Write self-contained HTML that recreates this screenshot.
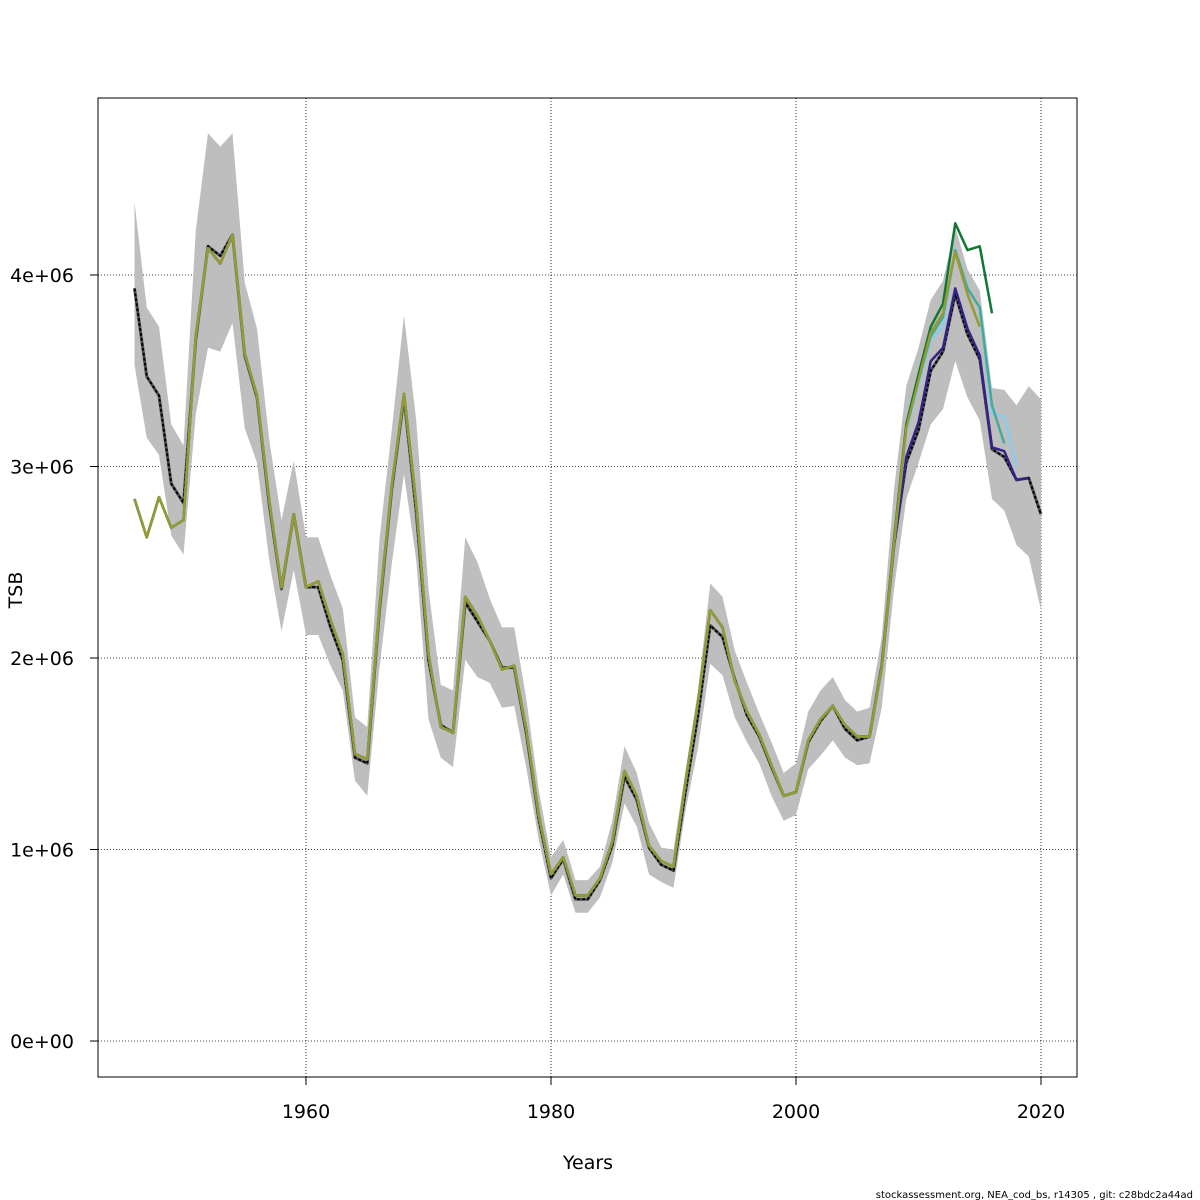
<!DOCTYPE html>
<html><head><meta charset="utf-8"><style>body{margin:0;background:#fff}svg{display:block;font-family:"DejaVu Sans","Liberation Sans",sans-serif}</style></head>
<body>
<svg id="chart" width="1200" height="1200" viewBox="0 0 1200 1200" xmlns="http://www.w3.org/2000/svg">
<rect width="1200" height="1200" fill="#fff"/>
<g id="grid"></g>
<g id="band"></g>
<g id="lines"></g>
<rect x="98" y="98" width="979" height="979" fill="none" stroke="#000" stroke-width="1"/>
<g id="axes"></g>
<text x="0" y="0" transform="translate(22,590) rotate(-90)" text-anchor="middle" font-size="19">TSB</text>
<text x="588" y="1169" text-anchor="middle" font-size="19">Years</text>
<text x="1193" y="1198" text-anchor="end" font-size="10">stockassessment.org, NEA_cod_bs, r14305 , git: c28bdc2a44ad</text>
</svg>
<script>
const years = [];
for (let y = 1946; y <= 2020; y++) years.push(y);
const mainEst = [3.93,3.47,3.37,2.91,2.81,3.66,4.15,4.10,4.21,3.58,3.36,2.80,2.36,2.75,2.37,2.37,2.16,1.99,1.48,1.45,2.25,2.88,3.36,2.76,1.99,1.65,1.61,2.29,2.19,2.09,1.95,1.95,1.60,1.16,0.85,0.95,0.74,0.74,0.84,1.02,1.38,1.26,1.01,0.92,0.89,1.31,1.70,2.17,2.11,1.89,1.70,1.59,1.43,1.28,1.30,1.56,1.67,1.75,1.63,1.57,1.59,1.96,2.59,3.02,3.19,3.50,3.60,3.90,3.69,3.56,3.09,3.05,2.93,2.94,2.75];
const upper = [4.38,3.83,3.73,3.22,3.11,4.23,4.74,4.67,4.74,3.96,3.72,3.14,2.72,3.03,2.63,2.63,2.43,2.26,1.69,1.64,2.62,3.19,3.79,3.24,2.36,1.86,1.83,2.63,2.50,2.31,2.16,2.16,1.78,1.31,0.96,1.05,0.84,0.84,0.91,1.15,1.54,1.40,1.14,1.01,1.00,1.42,1.83,2.39,2.32,2.04,1.87,1.71,1.56,1.40,1.45,1.72,1.83,1.90,1.78,1.72,1.74,2.11,2.88,3.42,3.62,3.87,3.97,4.25,4.03,3.92,3.41,3.40,3.32,3.42,3.35];
const lower = [3.53,3.15,3.06,2.64,2.54,3.27,3.62,3.60,3.75,3.20,3.02,2.51,2.14,2.46,2.12,2.12,1.96,1.83,1.36,1.28,1.95,2.49,2.96,2.51,1.68,1.48,1.43,1.99,1.90,1.87,1.74,1.75,1.42,1.05,0.76,0.87,0.67,0.67,0.75,0.93,1.24,1.12,0.87,0.83,0.80,1.21,1.53,1.97,1.91,1.69,1.56,1.45,1.28,1.15,1.18,1.42,1.49,1.57,1.48,1.44,1.45,1.74,2.36,2.83,3.02,3.22,3.30,3.55,3.36,3.24,2.83,2.77,2.59,2.53,2.25];
// retro peels share history 1946-2007
const retroBase = [2.83,2.63,2.84,2.68,2.72,3.68,4.14,4.06,4.21,3.59,3.37,2.82,2.37,2.75,2.37,2.40,2.20,2.02,1.50,1.47,2.27,2.90,3.38,2.80,2.02,1.64,1.61,2.32,2.22,2.09,1.94,1.96,1.62,1.18,0.87,0.96,0.76,0.76,0.85,1.04,1.41,1.28,1.02,0.94,0.91,1.36,1.77,2.25,2.16,1.88,1.72,1.60,1.44,1.28,1.30,1.57,1.68,1.75,1.65,1.59,1.59,1.95];
const tailOlive = [2.60,3.20,3.45,3.70,3.80,4.12,3.90,3.73];
const tailGreen = [2.62,3.22,3.48,3.73,3.85,4.27,4.13,4.15,3.80];
const tailTeal = [2.60,3.20,3.45,3.68,3.78,4.13,3.93,3.83,3.32,3.12];
const tailBlue = [2.60,3.18,3.42,3.66,3.73,4.13,3.94,3.82,3.28,3.26,3.00];
const tailPurple = [2.59,3.05,3.23,3.55,3.62,3.93,3.72,3.58,3.10,3.08,2.93,2.94];
const xTicks = [1960,1980,2000,2020];
const yTicks = [0,1,2,3,4];
const yTickLabels = ["0e+00","1e+06","2e+06","3e+06","4e+06"];

const NS = "http://www.w3.org/2000/svg";
const X = y => 306 + (y - 1960) * 12.25;
const Y = v => 1041 - v * 191.5;
function mk(tag, attrs, parent){const e=document.createElementNS(NS,tag);for(const k in attrs)e.setAttribute(k,attrs[k]);parent.appendChild(e);return e;}
const grid=document.getElementById('grid'), axes=document.getElementById('axes');
xTicks.forEach(t=>{
  const l=mk('line',{x1:X(t),x2:X(t),y1:98,y2:1077,stroke:'#000','stroke-width':0.8,'stroke-dasharray':'1,2'},grid);
  
  
  const tk=mk('line',{x1:X(t),x2:X(t),y1:1077,y2:1085,stroke:'#000'},axes);
  
  
  const tx=mk('text',{x:X(t),y:1118,'text-anchor':'middle','font-size':19},axes);
  
  
  tx.textContent=t;
});
yTicks.forEach((t,i)=>{
  const l=mk('line',{x1:98,x2:1077,y1:Y(t),y2:Y(t),stroke:'#000','stroke-width':0.8,'stroke-dasharray':'1,2'},grid);
  
  
  const tk=mk('line',{x1:90,x2:98,y1:Y(t),y2:Y(t),stroke:'#000'},axes);
  
  
  const tx=mk('text',{x:42,y:Y(t)+7,'text-anchor':'middle','font-size':19},axes);
  
  
  tx.textContent=yTickLabels[i];
});
let pts=years.map((y,i)=>X(y)+','+Y(upper[i]));
for(let i=years.length-1;i>=0;i--)pts.push(X(years[i])+','+Y(lower[i]));
const band=mk('polygon',{points:pts.join(' '),fill:'#bebebe'},document.getElementById('band'));


const lines=document.getElementById('lines');
function series(vals,color,name,w,dash){
  const p=mk('polyline',{points:vals.map((v,i)=>X(years[i])+','+Y(v)).join(' '),fill:'none',stroke:color,'stroke-width':w,'stroke-linejoin':'round'},lines);
  if(dash)p.setAttribute('stroke-dasharray',dash);
  
  
}
series(mainEst,'#555','main-estimate-underlay',3);
series(mainEst,'#000','main-estimate-line',2,'3,2');
series(retroBase.concat(tailPurple),'#332288','retro-2019-line',2.5);
series(retroBase.concat(tailBlue),'#88ccee','retro-2018-line',2.5);
series(retroBase.concat(tailTeal),'#44aa99','retro-2017-line',2.5);
series(retroBase.concat(tailGreen),'#117733','retro-2016-line',2.5);
series(retroBase.concat(tailOlive),'#999933','retro-2015-line',2.5);
</script>
</body></html>
